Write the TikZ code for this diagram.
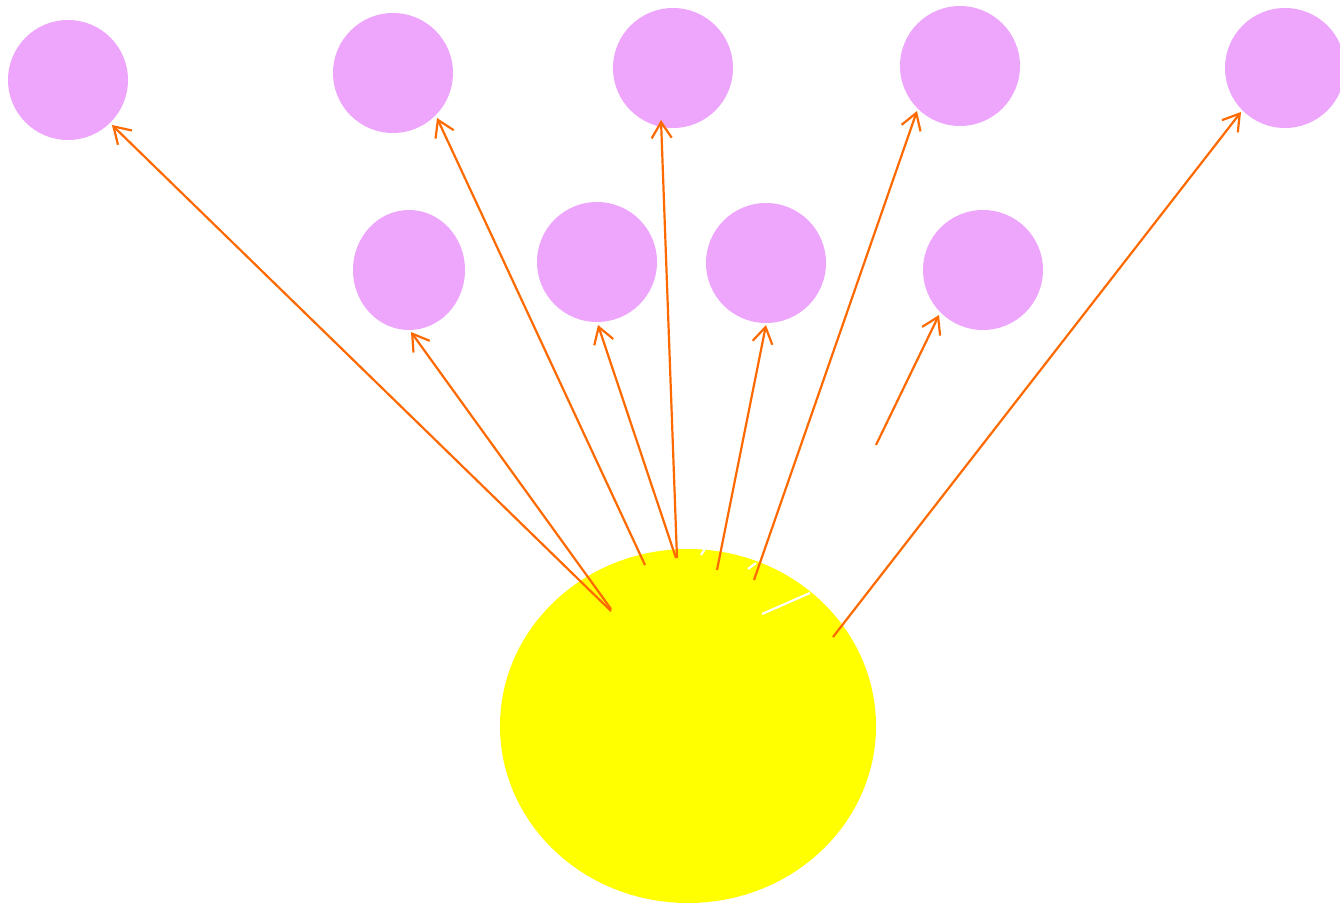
\documentclass[tikz,border=0pt]{standalone}
\usetikzlibrary{arrows.meta,shapes.geometric}
\definecolor{pinkc}{HTML}{EEA6FC}
\definecolor{orangec}{HTML}{FF6A00}
\definecolor{yellowc}{RGB}{255,255,0}
\begin{document}
\begin{tikzpicture}[x=0.5pt,y=-0.5pt,
  blob/.style={fill=pinkc,draw=none,circle,minimum size=60pt,inner sep=0pt},
  conn/.style={draw=orangec,line width=1.1pt,-{Straight Barb[length=8pt,width=10pt,line width=1.1pt]}},
  gap/.style={draw=white,line width=1.1pt}]
\useasboundingbox (0,0) rectangle (1340,904);
% yellow body
\node[fill=yellowc,draw=none,ellipse,minimum width=188pt,minimum height=177pt,inner sep=0pt] (sun) at (688,726) {};
% pink circles
\node[blob] (c1) at (68,80) {};
\node[blob] (c2) at (393,73) {};
\node[blob] (c3) at (673,68) {};
\node[blob] (c4) at (960,66) {};
\node[blob] (c5) at (1285,68) {};
\node[blob,ellipse,minimum width=56pt,minimum height=60pt] (c6) at (409,270) {};
\node[blob] (c7) at (597,262) {};
\node[blob] (c8) at (766,263) {};
\node[blob] (c9) at (983,270) {};
% arrow starts
\coordinate (sa) at (611,611);
\coordinate (sb) at (611,609);
\coordinate (sc) at (645,565);
\coordinate (sd) at (676,558);
\coordinate (se) at (677,558);
\coordinate (sf) at (717,570);
\coordinate (sg) at (754,580);
\coordinate (sh) at (876,445);
\coordinate (si) at (833,637);
% arrow ends
\coordinate (ea) at (112,125);
\coordinate (eb) at (411,332);
\coordinate (ec) at (437,118);
\coordinate (ed) at (598,325);
\coordinate (ee) at (661,120);
\coordinate (ef) at (766,325);
\coordinate (eg) at (917,111);
\coordinate (eh) at (939,315);
\coordinate (ei) at (1241,112);
\draw[conn] (sa) -- (ea);
\draw[conn] (sb) -- (eb);
\draw[conn] (sc) -- (ec);
\draw[conn] (sd) -- (ed);
\draw[conn] (se) -- (ee);
\draw[conn] (sf) -- (ef);
\draw[conn] (sg) -- (eg);
\draw[conn] (sh) -- (eh);
\draw[conn] (si) -- (ei);
% white marks
\coordinate (w1a) at (701,555); \coordinate (w1b) at (705,549);
\coordinate (w2a) at (748,569); \coordinate (w2b) at (756,563);
\coordinate (w3a) at (762,614); \coordinate (w3b) at (810,593);
\draw[gap] (w1a) -- (w1b);
\draw[gap] (w2a) -- (w2b);
\draw[gap] (w3a) -- (w3b);
\end{tikzpicture}
\end{document}
